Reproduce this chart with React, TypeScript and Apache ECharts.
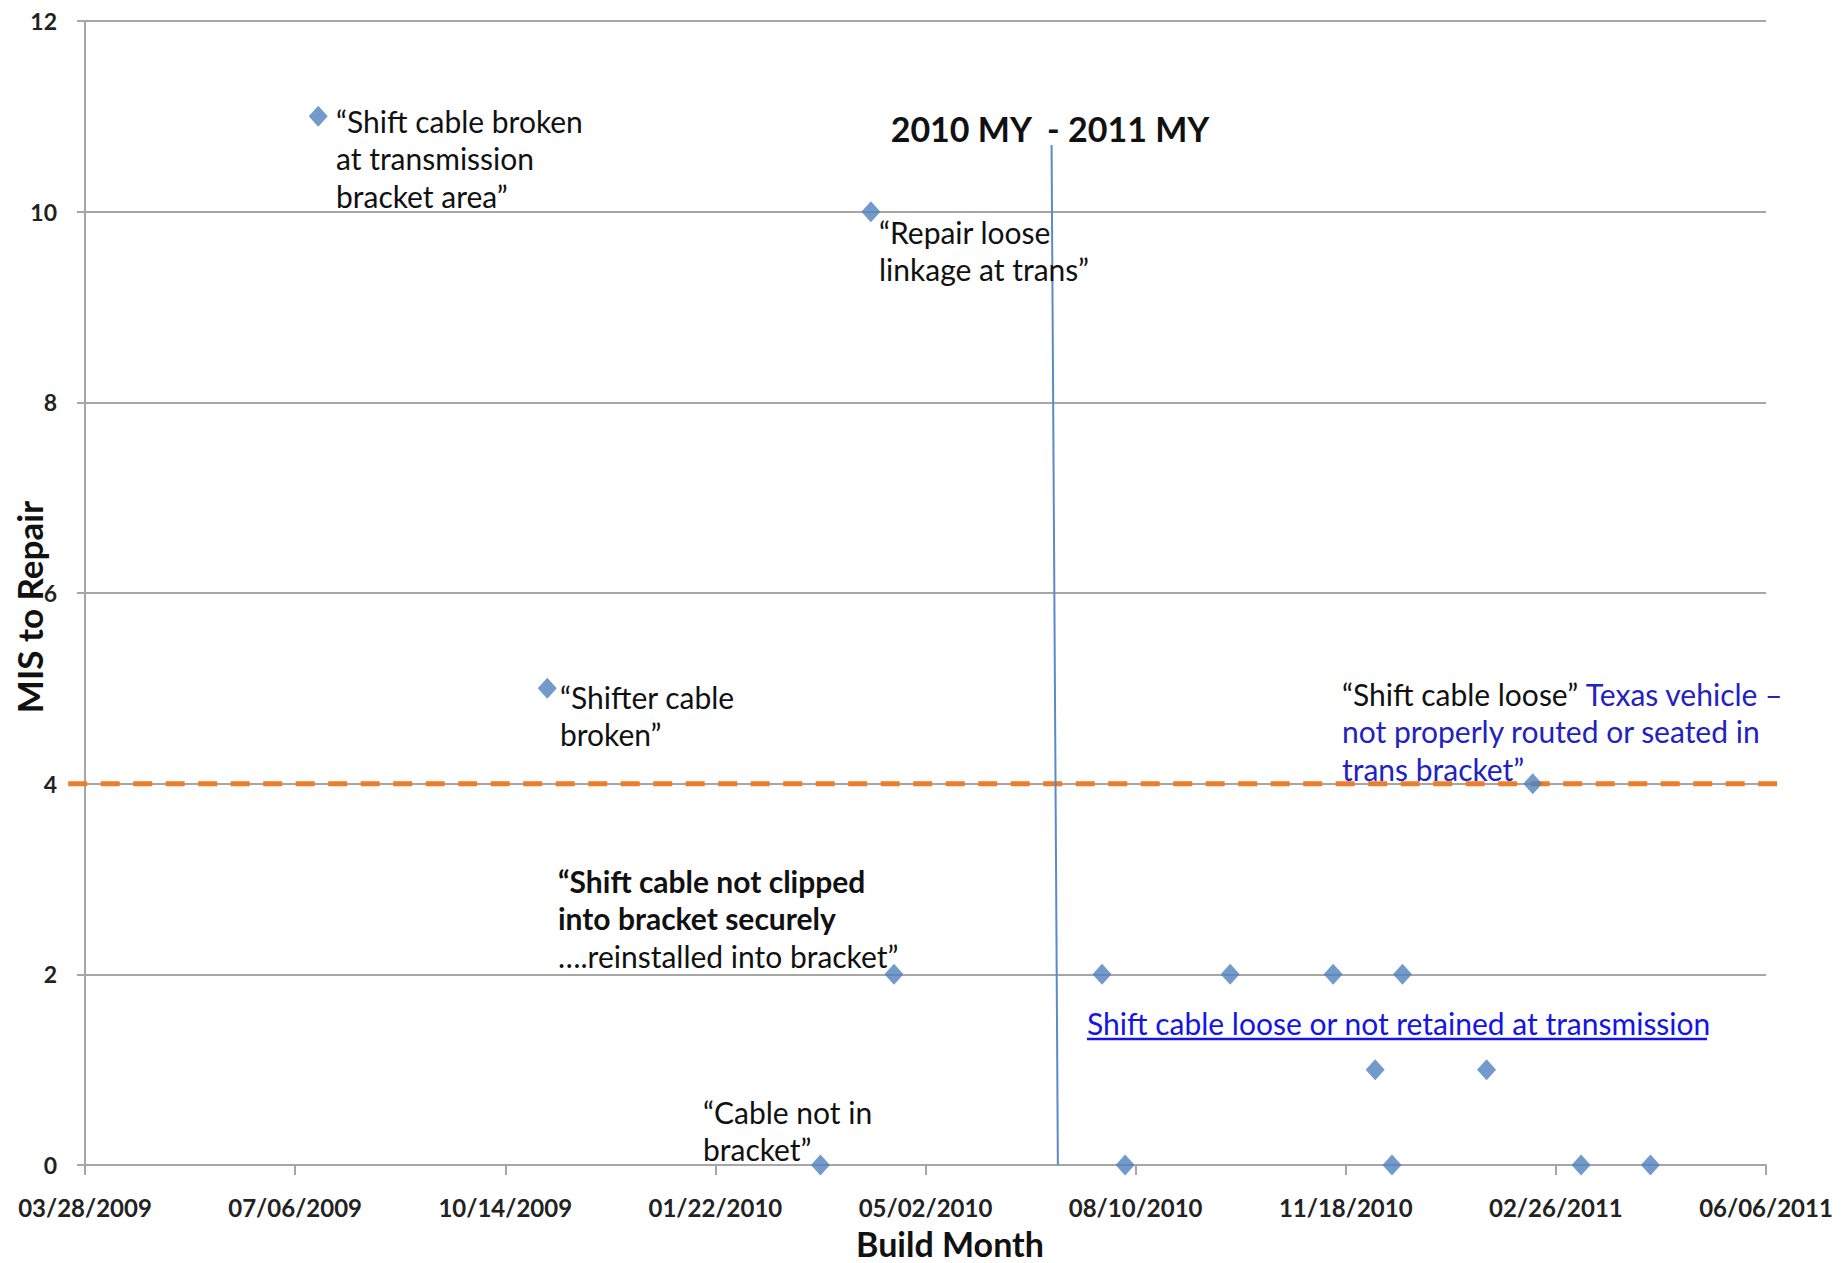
import React, { useEffect, useRef } from "react";
import * as echarts from "echarts";

const FONT = "Lato, 'Open Sans', sans-serif";

// X axis: Excel serial day numbers, ticks every 100 days (03/28/2009 = 39900)
const xMin = 39900;
const xMax = 40700;
const xStep = 100;
const yMin = 0;
const yMax = 12;
const yStep = 2;

// Repair points
const pointDates = [
  "2009-07-17", "2009-11-03", "2010-04-06", "2010-04-17", "2010-03-13",
  "2010-07-25", "2010-08-05", "2010-09-24", "2010-11-12", "2010-12-15",
  "2010-12-02", "2010-12-10", "2011-01-24", "2011-02-15", "2011-03-10",
  "2011-04-12",
];
const pointValues = [11, 5, 10, 2, 0, 2, 0, 2, 2, 2, 1, 0, 1, 4, 0, 0];

// 2010 MY / 2011 MY divider
const dividerDates = ["2010-07-01", "2010-07-04"];
const dividerValues = [10.7, 0];

// 4 MIS threshold (dashed orange)
const thresholdDates = ["2009-03-20", "2011-06-15"];
const thresholdValues = [4, 4];

const EPOCH = Date.UTC(1899, 11, 30);
const DAY = 86400000;
const toSerial = (s: string) => {
  const [y, m, d] = s.split("-").map(Number);
  return Math.round((Date.UTC(y, m - 1, d) - EPOCH) / DAY);
};
const fmtSerial = (v: number) => {
  const dt = new Date(EPOCH + v * DAY);
  const mm = String(dt.getUTCMonth() + 1).padStart(2, "0");
  const dd = String(dt.getUTCDate()).padStart(2, "0");
  return `${mm}/${dd}/${dt.getUTCFullYear()}`;
};

const BLUE_TXT = "#2222c0";
const LINK = "#1414e6";
const ANN = 30;
const LH = 37.5;

export default function App() {
  const ref = useRef<HTMLDivElement>(null);
  useEffect(() => {
    if (!ref.current) return;
    const chart = echarts.init(ref.current, null, { renderer: "svg" });
    const pts = pointDates.map((d, i) => [toSerial(d), pointValues[i]]);
    const divider = dividerDates.map((d, i) => [toSerial(d), dividerValues[i]]);
    const threshold = thresholdDates.map((d, i) => [toSerial(d), thresholdValues[i]]);

    const txt = (x: number, y: number, text: string, extra: any = {}) => ({
      type: "text",
      x,
      y,
      z: 50,
      style: {
        text,
        font: `${ANN}px ${FONT}`,
        fill: "#111",
        lineHeight: LH,
        verticalAlign: "top",
        align: "left",
        ...extra,
      },
    });

    const graphics: any[] = [
      txt(336, 102, "“Shift cable broken\nat transmission\nbracket area”"),
      txt(879, 213, "“Repair loose\nlinkage at trans”"),
      txt(560, 678, "“Shifter cable\nbroken”"),
      {
        type: "text",
        x: 1342,
        y: 675,
        z: 50,
        style: {
          text: "{k|“Shift cable loose”} {b|Texas vehicle –}\n{b|not properly routed or seated in}\n{b|trans bracket”}",
          font: `${ANN}px ${FONT}`,
          verticalAlign: "top",
          align: "left",
          lineHeight: LH,
          rich: {
            k: { fill: "#111", fontSize: ANN, fontFamily: FONT, lineHeight: LH },
            b: { fill: BLUE_TXT, fontSize: ANN, fontFamily: FONT, lineHeight: LH },
          },
        },
      },
      {
        type: "text",
        x: 558,
        y: 862,
        z: 50,
        style: {
          text: "{b|“Shift cable not clipped}\n{b|into bracket securely}\n{n|….reinstalled into bracket”}",
          font: `${ANN}px ${FONT}`,
          verticalAlign: "top",
          align: "left",
          lineHeight: LH,
          rich: {
            b: { fill: "#111", fontSize: ANN, fontFamily: FONT, fontWeight: "bold", lineHeight: LH },
            n: { fill: "#111", fontSize: ANN, fontFamily: FONT, lineHeight: LH },
          },
        },
      },
      txt(703, 1093, "“Cable not in\nbracket”"),
      txt(1087, 1023, "Shift cable loose or not retained at transmission", {
        fill: LINK,
        verticalAlign: "middle",
      }),
      {
        type: "line",
        z: 50,
        shape: { x1: 1087, y1: 1039, x2: 1707, y2: 1039 },
        style: { stroke: LINK, lineWidth: 2.5 },
      },
      {
        type: "text",
        x: 1050,
        y: 128,
        z: 50,
        style: {
          text: "2010 MY  - 2011 MY",
          font: `bold 34px ${FONT}`,
          fill: "#111",
          align: "center",
          verticalAlign: "middle",
        },
      },
      {
        type: "text",
        x: 950,
        y: 1243,
        z: 50,
        style: {
          text: "Build Month",
          font: `bold 34px ${FONT}`,
          fill: "#111",
          align: "center",
          verticalAlign: "middle",
        },
      },
      {
        type: "text",
        x: 29,
        y: 607,
        rotation: Math.PI / 2,
        z: 50,
        style: {
          text: "MIS to Repair",
          font: `bold 35px ${FONT}`,
          fill: "#111",
          align: "center",
          verticalAlign: "middle",
        },
      },
    ];

    const option: any = {
      animation: false,
      backgroundColor: "#ffffff",
      grid: { left: 85, top: 21, width: 1681, height: 1144, containLabel: false },
      xAxis: {
        type: "value",
        min: xMin,
        max: xMax,
        interval: xStep,
        axisLine: { show: true, lineStyle: { color: "#a6a6a6", width: 2 } },
        axisTick: { show: true, length: 10, lineStyle: { color: "#a6a6a6", width: 2 } },
        splitLine: { show: false },
        axisLabel: {
          formatter: (v: number) => fmtSerial(v),
          margin: 30,
          color: "#222",
          fontFamily: FONT,
          fontWeight: "bold",
          fontSize: 24,
          showMinLabel: true,
          showMaxLabel: true,
        },
      },
      yAxis: {
        type: "value",
        min: yMin,
        max: yMax,
        interval: yStep,
        axisLine: { show: true, lineStyle: { color: "#a6a6a6", width: 2 } },
        axisTick: { show: true, length: 8, lineStyle: { color: "#a6a6a6", width: 2 } },
        splitLine: { show: true, lineStyle: { color: "#a6a6a6", width: 2 } },
        axisLabel: {
          margin: 28,
          color: "#222",
          fontFamily: FONT,
          fontWeight: "bold",
          fontSize: 23,
        },
      },
      series: [
        {
          type: "line",
          data: divider,
          clip: false,
          symbol: "none",
          z: 3,
          lineStyle: { color: "#5b8ac8", width: 2 },
          silent: true,
        },
        {
          type: "scatter",
          data: pts,
          symbol: "diamond",
          symbolSize: [19, 21],
          z: 5,
          itemStyle: { color: "#4f81bd" },
        },
      ],
      graphic: graphics,
    };
    chart.setOption(option);

    // threshold line extends past the plot area: place it via the chart's own scales
    const p1 = chart.convertToPixel({ gridIndex: 0 }, threshold[0]) as number[];
    const p2 = chart.convertToPixel({ gridIndex: 0 }, threshold[1]) as number[];
    option.graphic = [
      {
        type: "line",
        z: 1,
        shape: { x1: p1[0], y1: p1[1], x2: p2[0], y2: p2[1] },
        style: { stroke: "#ee7d2a", lineWidth: 5, lineDash: [19, 13.5] },
        silent: true,
      },
      ...graphics,
    ];
    chart.setOption(option, true);
    return () => chart.dispose();
  }, []);
  return (
    <div
      ref={ref}
      style={{ position: "fixed", left: 0, top: 0, width: 1847, height: 1263, background: "#fff" }}
    />
  );
}
